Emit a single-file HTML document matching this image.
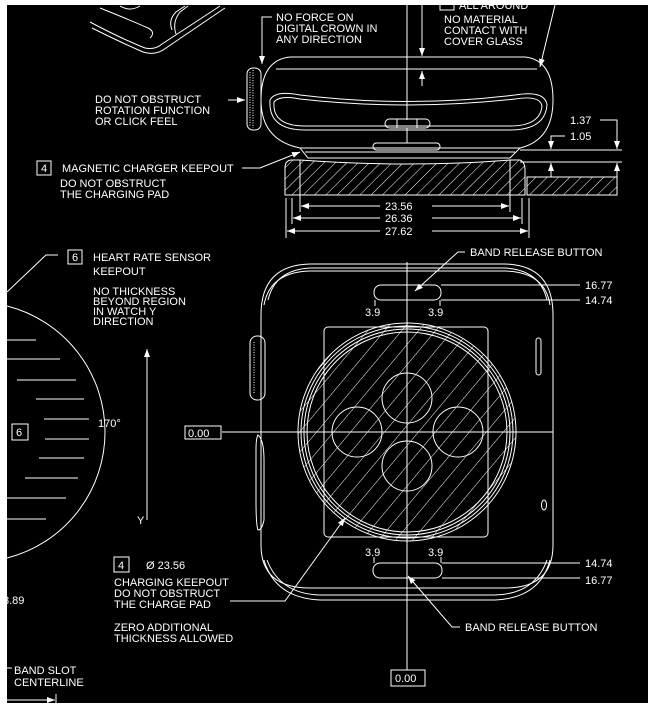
<!DOCTYPE html>
<html><head><meta charset="utf-8"><style>
html,body{margin:0;padding:0;background:#fff;}
svg{display:block;}
text{font-family:"Liberation Sans",sans-serif;font-size:11px;fill:#fff;}
</style></head><body>
<svg width="654" height="709" viewBox="0 0 654 709" xmlns="http://www.w3.org/2000/svg">
<defs>
<pattern id="h" patternUnits="userSpaceOnUse" width="8" height="8" patternTransform="rotate(45)">
<line x1="0" y1="0" x2="0" y2="8" stroke="#fff" stroke-width="1"/></pattern>
<pattern id="h2" patternUnits="userSpaceOnUse" width="13" height="13" patternTransform="rotate(40)">
<line x1="0" y1="0" x2="0" y2="13" stroke="#fff" stroke-width="1"/></pattern>
<marker id="a" markerWidth="8" markerHeight="6" refX="8" refY="3" orient="auto" markerUnits="userSpaceOnUse"><path d="M0,0 L8,3 L0,6z" fill="#fff"/></marker>
</defs>
<rect x="7" y="5" width="641" height="698" fill="#000"/>
<g fill="none" stroke="#fff" stroke-width="1">
<path d="M90,22 Q120,38 145,48 Q155,50 162,44 L220,6"/>
<path d="M92,28 Q120,42 143,52 Q156,56 166,48 L225,8"/>
<path d="M100,8 Q130,20 148,28 Q156,32 150,38"/>
<path d="M172,30 Q168,20 176,12 L185,6 M176,34 Q172,22 180,12 L188,6"/>
<path d="M120,6 Q130,12 140,6"/>
<path d="M272,17 L262,17 L262,64" marker-end="url(#a)"/>
<path d="M555,5 L540,67" marker-end="url(#a)"/>
<line x1="407" y1="5" x2="407" y2="120"/>
<path d="M422,5 L422,56" marker-end="url(#a)"/>
<path d="M422,86 L422,71" marker-end="url(#a)"/>
<path d="M290,57 L525,57 Q553,60 553,100 Q553,140 520,148 L300,148 Q261,140 261,100 Q261,60 290,57z"/>
<line x1="276" y1="69" x2="537" y2="69"/>
<path d="M270,100 Q275,90 300,95 Q407,108 515,95 Q545,90 547,105 Q545,130 510,130 L305,130 Q268,130 270,100z"/>
<path d="M274,102 Q280,95 300,99 Q407,111 515,99 Q540,95 542,106 Q540,126 510,126 L305,126 Q272,126 274,102z"/>
<rect x="385" y="119" width="45" height="9" rx="4.5"/>
<line x1="397" y1="119" x2="397" y2="128"/><line x1="417" y1="119" x2="417" y2="128"/>
<rect x="373" y="143" width="67" height="7" rx="3.5"/>
<line x1="407" y1="128" x2="407" y2="143"/>
<rect x="247" y="68" width="14" height="62" rx="6"/>
<path d="M250,72 L250,126 M253,70 L253,128" stroke-dasharray="1 1.5"/>
<path d="M300,148 L308,158 L510,158 L520,148"/>
<line x1="305" y1="152" x2="515" y2="152"/>
<line x1="520" y1="150" x2="622" y2="150"/>
<line x1="520" y1="162" x2="622" y2="162"/>
<path d="M292,160 L300,160 Q410,168 510,160 L520,160 Q525,162 525,170 L525,195 L285,195 L285,168 Q285,160 292,160z" fill="url(#h)"/>
<line x1="300" y1="160" x2="300" y2="195"/>
<line x1="510" y1="160" x2="510" y2="195"/>
<rect x="527" y="177" width="90" height="18" fill="url(#h)"/>
<path d="M600,120 L617,120 L617,149" marker-end="url(#a)"/>
<path d="M565,136 L551,136 L551,149" marker-end="url(#a)"/>
<path d="M551,177 L551,163" marker-end="url(#a)"/>
<path d="M617,195 L617,163" marker-end="url(#a)"/>
<path d="M228,100 L245,100" marker-end="url(#a)"/>
<path d="M242,168 L260,168 L300,152" marker-end="url(#a)"/>
<line x1="300" y1="195" x2="300" y2="212"/><line x1="510" y1="195" x2="510" y2="212"/>
<line x1="292" y1="198" x2="292" y2="224"/><line x1="522" y1="198" x2="522" y2="224"/>
<line x1="286" y1="198" x2="286" y2="238"/><line x1="529" y1="198" x2="529" y2="238"/>
<path d="M380,206 L301,206" marker-end="url(#a)"/><path d="M432,206 L509,206" marker-end="url(#a)"/>
<path d="M380,218 L293,218" marker-end="url(#a)"/><path d="M432,218 L521,218" marker-end="url(#a)"/>
<path d="M380,231 L287,231" marker-end="url(#a)"/><path d="M432,231 L528,231" marker-end="url(#a)"/>
<path d="M261,315 Q261,265 310,264 L505,264 Q553,265 553,315 L553,545 Q553,588 505,588 L310,588 Q261,588 261,545z"/>
<path d="M268,300 Q275,270 310,268 L505,268 Q540,270 547,300"/>
<path d="M264,305 Q270,272 310,271 L505,271 Q545,272 550,305"/>
<path d="M264,560 Q275,598 320,600 L495,600 Q540,598 550,560"/>
<path d="M267,560 Q280,594 320,595 L495,595 Q535,594 547,560"/>
<rect x="250" y="336" width="15" height="64" rx="7"/>
<path d="M254,342 L254,394" stroke-dasharray="1 1.5"/>
<path d="M258,435 Q264,440 264,460 L264,520 Q262,530 258,530 Q256,525 256,500 L256,450 Q256,438 258,435z"/>
<rect x="536" y="338" width="5" height="37" rx="2.5"/>
<line x1="553" y1="338" x2="553" y2="376"/>
<ellipse cx="544" cy="505" rx="2.5" ry="5"/>
<rect x="374" y="285" width="67" height="15" rx="7"/>
<rect x="373" y="563" width="69" height="15" rx="7"/>
<line x1="441" y1="285" x2="580" y2="285"/><line x1="441" y1="300" x2="580" y2="300"/>
<line x1="375" y1="300" x2="375" y2="306"/><line x1="440" y1="300" x2="440" y2="306"/>
<line x1="442" y1="563" x2="580" y2="563"/><line x1="442" y1="578" x2="580" y2="578"/>
<line x1="374" y1="557" x2="374" y2="563"/><line x1="441" y1="557" x2="441" y2="563"/>
<path d="M465,252 L458,252 L415,291" marker-end="url(#a)"/>
<path d="M460,627 L452,627 L408,576" marker-end="url(#a)"/>
<rect x="324" y="327" width="164" height="210" rx="4"/>
<circle cx="407" cy="432" r="109" fill="url(#h2)"/>
<circle cx="407" cy="432" r="106"/><circle cx="407" cy="432" r="103"/><circle cx="407" cy="432" r="100"/>
<circle cx="407" cy="398" r="25"/>
<circle cx="357" cy="432" r="25"/>
<circle cx="458" cy="432" r="25"/>
<circle cx="407" cy="466" r="25"/>
<line x1="407" y1="262" x2="407" y2="670"/>
<line x1="222" y1="432" x2="553" y2="432"/>
<rect x="185" y="426" width="36" height="13"/>
<rect x="391" y="670" width="34" height="16"/>
<path d="M7,306 A130,130 0 0 1 7,558"/>
<line x1="7" y1="340" x2="36" y2="340"/><line x1="7" y1="359" x2="60" y2="359"/>
<line x1="17" y1="380" x2="76" y2="380"/><line x1="36" y1="399" x2="84" y2="399"/>
<line x1="44" y1="419" x2="89" y2="419"/><line x1="45" y1="439" x2="89" y2="439"/>
<line x1="39" y1="458" x2="84" y2="458"/><line x1="25" y1="478" x2="78" y2="478"/>
<line x1="7" y1="498" x2="66" y2="498"/><line x1="7" y1="519" x2="46" y2="519"/>
<rect x="12" y="424" width="16" height="16"/>
<path d="M58,255 L46,255 L7,292"/>
<rect x="68" y="250" width="14" height="14"/>
<path d="M147,520 L147,349" marker-end="url(#a)"/>
<rect x="114" y="557" width="15" height="15"/>
<rect x="37" y="161" width="14" height="14"/>
<path d="M230,601 L285,601 L345,518" marker-end="url(#a)"/>
<line x1="7" y1="668" x2="12" y2="668"/>
<path d="M7,700 L55,700" marker-end="url(#a)"/><line x1="56" y1="694" x2="56" y2="706"/>
<rect x="440" y="0" width="14" height="10"/>
</g>
<text x="276" y="21">NO FORCE ON</text>
<text x="276" y="32">DIGITAL CROWN IN</text>
<text x="276" y="43">ANY DIRECTION</text>
<text x="459" y="9">ALL AROUND</text>
<text x="444" y="23">NO MATERIAL</text>
<text x="444" y="34">CONTACT WITH</text>
<text x="444" y="45">COVER GLASS</text>
<text x="95" y="103">DO NOT OBSTRUCT</text>
<text x="95" y="114">ROTATION FUNCTION</text>
<text x="95" y="125">OR CLICK FEEL</text>
<text x="41" y="172">4</text>
<text x="62" y="172">MAGNETIC CHARGER KEEPOUT</text>
<text x="60" y="187">DO NOT OBSTRUCT</text>
<text x="60" y="198">THE CHARGING PAD</text>
<text x="570" y="124">1.37</text>
<text x="570" y="140">1.05</text>
<text x="385" y="210">23.56</text>
<text x="385" y="222">26.36</text>
<text x="385" y="235">27.62</text>
<text x="470" y="256">BAND RELEASE BUTTON</text>
<text x="585" y="289">16.77</text>
<text x="585" y="304">14.74</text>
<text x="365" y="316">3.9</text>
<text x="428" y="316">3.9</text>
<text x="72" y="261">6</text>
<text x="93" y="261">HEART RATE SENSOR</text>
<text x="93" y="275">KEEPOUT</text>
<text x="93" y="295">NO THICKNESS</text>
<text x="93" y="305">BEYOND REGION</text>
<text x="93" y="315">IN WATCH Y</text>
<text x="93" y="325">DIRECTION</text>
<text x="98" y="427">170°</text>
<text x="16" y="436">6</text>
<text x="188" y="437">0.00</text>
<text x="137" y="524">Y</text>
<text x="118" y="569">4</text>
<text x="146" y="569">Ø 23.56</text>
<text x="114" y="586">CHARGING KEEPOUT</text>
<text x="114" y="597">DO NOT OBSTRUCT</text>
<text x="114" y="608">THE CHARGE PAD</text>
<text x="114" y="631">ZERO ADDITIONAL</text>
<text x="114" y="642">THICKNESS ALLOWED</text>
<text x="3" y="604">8.89</text>
<text x="365" y="556">3.9</text>
<text x="428" y="556">3.9</text>
<text x="585" y="567">14.74</text>
<text x="585" y="584">16.77</text>
<text x="465" y="631">BAND RELEASE BUTTON</text>
<text x="395" y="682">0.00</text>
<text x="14" y="674">BAND SLOT</text>
<text x="14" y="686">CENTERLINE</text>
</svg>
</body></html>
